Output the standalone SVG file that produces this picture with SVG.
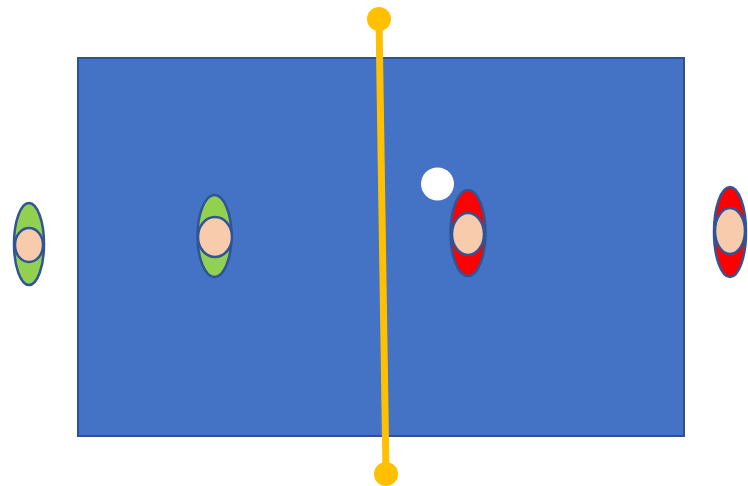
<svg xmlns="http://www.w3.org/2000/svg" width="748" height="486" viewBox="0 0 748 486">
<style>
.field{fill:#4472C4;stroke:#2F528F;stroke-width:2}
.body{stroke:#2F5597;stroke-width:2.5}
.green{fill:#92D050}
.red{fill:#FF0000}
.head{fill:#F8CBAD;stroke:#2F5597;stroke-width:2.5}
.net{stroke:#FFC000;stroke-width:7;stroke-linecap:round}
.post{fill:#FFC000}
</style>
<rect width="748" height="486" fill="#FFFFFF"/>
<g id="field"><rect class="field" x="78" y="58" width="606" height="378"/></g>
<g id="player-green-1">
<ellipse class="body green" cx="29" cy="244" rx="15" ry="41"/>
<ellipse class="head" cx="29" cy="245" rx="14" ry="17"/>
</g>
<g id="player-green-2">
<ellipse class="body green" cx="214.5" cy="236" rx="17" ry="41"/>
<ellipse class="head" cx="215" cy="237" rx="17" ry="20"/>
</g>
<g id="player-red-1">
<ellipse class="body red" cx="468" cy="233" rx="17.5" ry="43"/>
<ellipse class="head" cx="468" cy="234" rx="16" ry="21"/>
</g>
<g id="player-red-2">
<ellipse class="body red" cx="730" cy="232" rx="16" ry="45"/>
<ellipse class="head" cx="730" cy="231" rx="15" ry="23"/>
</g>
<g id="ball"><circle cx="437.5" cy="184" r="16.5" fill="#FFFFFF"/></g>
<g id="connectors">
<line class="net" x1="379" y1="19" x2="386" y2="474"/>
<circle class="post" cx="379" cy="19" r="12"/>
<circle class="post" cx="386" cy="474" r="12"/>
</g>
</svg>
